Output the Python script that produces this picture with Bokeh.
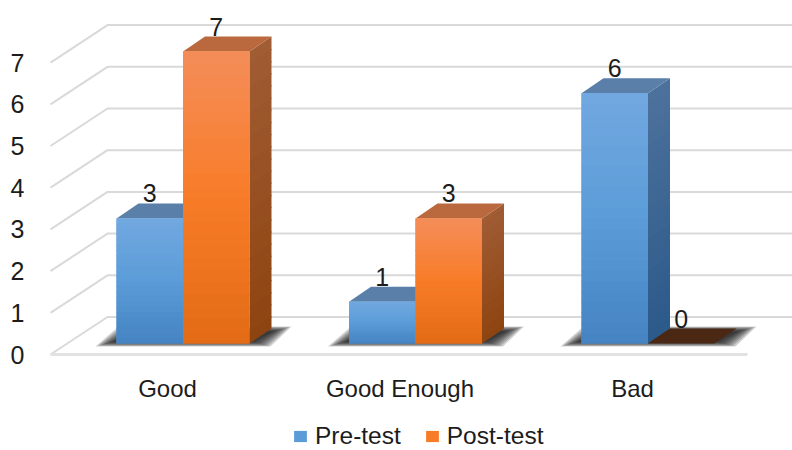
from bokeh.plotting import figure
from bokeh.models import Range1d, FixedTicker, Legend, LegendItem, ColumnDataSource
from bokeh.embed import file_html
from bokeh.resources import INLINE
from bokeh.core.properties import value as fixed

categories = ["Good", "Good Enough", "Bad"]
pre_test = [3, 1, 6]
post_test = [7, 3, 0]
y_ticks = [0, 1, 2, 3, 4, 5, 6, 7]
series_names = ["Pre-test", "Post-test"]

PXX = 232.5
PXY = 41.7
to_x = lambda px: px / PXX
to_y = lambda px: px / PXY

FONT = "Liberation Sans"
TXT = "#1c1c1c"

p = figure(width=792, height=450, output_backend="svg", toolbar_location=None,
           x_range=Range1d(to_x(0 - 167), to_x(792 - 167)),
           y_range=Range1d(to_y(354 - 450), to_y(354 - 0)),
           min_border=0, min_border_left=0, min_border_right=0, min_border_top=0, min_border_bottom=0,
           outline_line_color=None, background_fill_color="white", border_fill_color="white")
p.grid.visible = False

for ax in (p.xaxis[0], p.yaxis[0]):
    ax.axis_line_color = None
    ax.major_tick_line_color = None
    ax.minor_tick_line_color = None
    ax.major_tick_out = 0
    ax.major_tick_in = 0
    ax.minor_tick_out = 0
    ax.minor_tick_in = 0
    ax.major_label_text_font = FONT
    ax.major_label_text_color = TXT
p.yaxis[0].major_label_text_font_size = "25px"
p.xaxis[0].major_label_text_font_size = "24px"
p.yaxis[0].ticker = FixedTicker(ticks=y_ticks)
p.yaxis[0].major_label_standoff = 4
p.yaxis[0].fixed_location = to_x(28 - 167)
p.xaxis[0].ticker = FixedTicker(ticks=list(range(len(categories))))
p.xaxis[0].major_label_overrides = {i: c for i, c in enumerate(categories)}
p.xaxis[0].major_label_standoff = 12
p.xaxis[0].fixed_location = to_y(354 - 362)

# floor + wall grid (oblique projection)
GX0, GX1, GX2 = to_x(50 - 167), to_x(107 - 167), to_x(806 - 167)
GDY = to_y(37.5)
p.multi_line(xs=[[GX0, GX1, GX2] for _ in y_ticks],
             ys=[[t, t + GDY, t + GDY] for t in y_ticks],
             line_color="#d9d9d9", line_width=2)
p.line([GX0, to_x(747 - 167)], [0, 0], line_color="#e2e2e2", line_width=3)

FLOOR = to_y(11)
DX, DY = to_x(22), to_y(15)
W = to_x(66.5)
CENTER = to_x(15.5)


def mix(a, b, t):
    ca = [int(a[i:i + 2], 16) for i in (1, 3, 5)]
    cb = [int(b[i:i + 2], 16) for i in (1, 3, 5)]
    return "#%02x%02x%02x" % tuple(round(x + (y - x) * t) for x, y in zip(ca, cb))


# floor shadows
for i in range(len(categories)):
    cx = i + CENTER
    l, r = cx - W, cx + W
    for k in range(9):
        g = k * to_x(2.2)
        h = k * to_y(0.6)
        p.patch([l - to_x(21) + g, r + to_x(21) - g, r + to_x(42) - g, l + to_x(2) + g],
                [FLOOR - to_y(3) + h, FLOOR - to_y(3) + h, FLOOR + to_y(17) - h, FLOOR + to_y(17) - h],
                fill_color="#1c1c1c", fill_alpha=0.2, line_color=None)

STYLES = [
    dict(base="#5b9cd8", top="#72a8e0", bottom="#4583c2", cap="#5a80aa", s_top="#4d719c", s_bot="#2b5a8a"),
    dict(base="#f87c28", top="#f48d59", bottom="#e36b15", cap="#b9693d", s_top="#a05c34", s_bot="#8e4410"),
]
STEPS = 24
renderers = []
for s, (vals, st) in enumerate(zip((pre_test, post_test), STYLES)):
    offs = -W / 2 if s == 0 else W / 2
    xs = [i + CENTER + offs for i in range(len(vals))]
    src = ColumnDataSource(dict(x=xs, top=[v + FLOOR for v in vals], bottom=[FLOOR] * len(vals)))
    # side faces
    for x, v in zip(xs, vals):
        xr = x + W / 2
        if v > 0:
            for k in range(STEPS):
                t0, t1 = k / STEPS, (k + 1) / STEPS
                y0, y1 = FLOOR + v * (1 - t0), FLOOR + v * (1 - t1)
                y_over = 0 if k == STEPS - 1 else to_y(1.2)
                p.patch([xr, xr + DX, xr + DX, xr],
                        [y0, y0 + DY, y1 + DY - y_over, y1 - y_over],
                        fill_color=mix(st["s_top"], st["s_bot"], (k + .5) / STEPS), line_color=None)
        # cap
        capc = st["cap"] if v > 0 else "#4a2814"
        p.patch([xr - W, xr, xr + DX, xr - W + DX],
                [FLOOR + v, FLOOR + v, FLOOR + v + DY, FLOOR + v + DY],
                fill_color=capc, line_color=None)
    renderers.append(p.vbar(x="x", top="top", bottom="bottom", width=W, source=src,
                            fill_color=st["base"], line_color=None))
    # front-face gradient
    for x, v in zip(xs, vals):
        if v <= 0:
            continue
        tops, bots, cols = [], [], []
        for k in range(STEPS):
            t = (k + .5) / STEPS
            tops.append(FLOOR + v * (1 - k / STEPS))
            bots.append(FLOOR + v * (1 - (k + 1) / STEPS) - (0 if k == STEPS - 1 else to_y(1)))
            cols.append(mix(st["top"], st["base"], t * 2) if t < .5 else mix(st["base"], st["bottom"], (t - .5) * 2))
        p.quad(left=[x - W / 2] * STEPS, right=[x + W / 2] * STEPS, top=tops, bottom=bots,
               fill_color=cols, line_color=None)

# data labels
for s, vals in enumerate((pre_test, post_test)):
    offs = -W / 2 if s == 0 else W / 2
    p.text(x=[i + CENTER + offs for i in range(len(vals))],
           y=[v + FLOOR for v in vals],
           text=[str(v) for v in vals],
           y_offset=-25, text_align="center", text_baseline="middle",
           text_font=fixed(FONT), text_font_size="25px", text_color=TXT)

legend = Legend(items=[LegendItem(label=n, renderers=[r]) for n, r in zip(series_names, renderers)],
                orientation="horizontal", location=(292, 0), border_line_color=None,
                background_fill_alpha=0, label_text_font=FONT, label_text_font_size="24.5px",
                label_text_color=TXT, glyph_width=16, glyph_height=14, label_standoff=7, spacing=23,
                margin=0, padding=0)
p.add_layout(legend, "center")

open("out.html", "w").write(file_html(p, INLINE))
